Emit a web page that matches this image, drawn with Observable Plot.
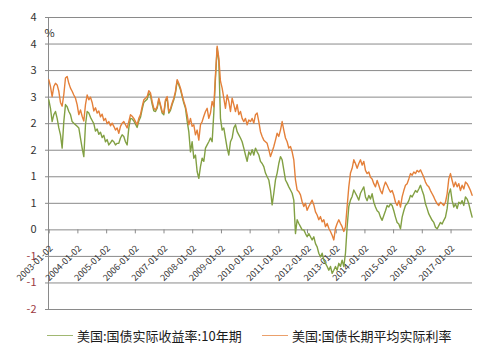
<!DOCTYPE html>
<html><head><meta charset="utf-8">
<script src="https://cdn.jsdelivr.net/npm/d3@7"></script>
<script src="https://cdn.jsdelivr.net/npm/@observablehq/plot@0.6"></script>
<style>
body{margin:0;background:#fff;font-family:"Noto Sans CJK SC","Noto Sans",sans-serif;}
#wrap{position:relative;width:497px;height:359px;overflow:hidden;background:#fff}
#legend{position:absolute;top:325px;left:0;width:497px;height:20px;font-size:13px;color:#1a1a1a}
.item{position:absolute;top:0;height:20px;display:flex;align-items:center;white-space:nowrap}
.sw{width:26px;height:0;border-top:1px solid;margin-right:4px;opacity:.75}
</style></head><body>
<div id="wrap"><div id="chart"></div><div id="legend"></div></div>
<script>
// Series names
const seriesNames = ["美国:国债实际收益率:10年期", "美国:国债长期平均实际利率"];
// Sampling of the daily series: first sample date and spacing (days)
const seriesStart = "2002-12-28";
const stepDays = 21.21;
// 美国:国债实际收益率:10年期 (%)
const realYield10y = [
 2.45,2.29,2.04,2.17,2.23,2.10,1.92,1.79,1.54,2.04,
 2.36,2.32,2.23,2.17,2.04,2.01,1.98,1.95,1.92,1.73,
 1.54,1.38,1.98,2.23,2.20,2.12,2.06,2.00,1.86,1.90,
 1.80,1.84,1.74,1.78,1.66,1.70,1.60,1.64,1.69,1.66,
 1.60,1.63,1.63,1.73,1.79,1.76,1.66,1.60,1.92,2.10,
 2.09,2.05,1.99,1.93,2.05,2.12,2.27,2.40,2.43,2.46,
 2.57,2.53,2.37,2.24,
 2.23,2.29,2.45,2.33,2.20,2.17,2.42,2.48,2.20,2.25,
 2.36,2.45,2.58,2.80,2.73,2.64,2.51,2.39,2.29,2.05,
 1.85,1.47,1.66,1.35,1.41,1.10,0.97,1.19,1.35,1.29,
 1.54,1.60,1.66,1.73,1.66,2.20,2.86,3.42,3.18,2.10,
 1.88,1.92,1.73,1.54,1.41,1.66,1.73,1.92,1.98,1.85,
 1.79,1.73,1.66,1.54,1.41,1.29,1.47,1.41,1.51,1.41,
 1.54,1.47,1.41,1.29,
 1.25,1.19,1.07,1.00,0.94,0.75,0.47,0.69,0.94,1.07,
 1.25,1.38,1.32,1.13,0.94,0.88,0.81,0.75,0.69,0.56,
 -0.07,0.19,0.12,0.06,0.00,0.00,-0.07,-0.13,-0.07,-0.13,
 -0.19,-0.13,-0.26,-0.32,-0.44,-0.51,-0.44,-0.57,-0.63,-0.69,
 -0.76,-0.69,-0.82,-0.76,-0.69,-0.76,-0.63,-0.69,-0.57,-0.69,
 -0.44,0.06,0.44,0.56,0.63,0.75,0.69,0.63,0.56,0.69,
 0.75,0.81,
 0.62,0.55,0.65,0.58,0.68,0.52,0.43,0.36,0.33,0.24,
 0.18,0.27,0.36,0.46,0.43,0.49,0.46,0.36,0.24,0.14,
 0.11,0.02,0.24,0.36,0.46,0.49,0.55,0.65,0.62,0.68,
 0.74,0.71,0.77,0.84,0.74,0.65,0.49,0.40,0.30,0.24,
 0.18,0.14,0.05,0.02,0.08,0.14,0.11,0.18,0.24,0.40,
 0.68,0.77,0.55,0.43,0.49,0.40,0.52,0.49,0.55,0.46,
 0.62,0.58,0.49,0.36,0.24
];
// 美国:国债长期平均实际利率 (%)
const longTermAvgReal = [
 2.83,2.70,2.51,2.70,2.76,2.73,2.61,2.40,2.33,2.55,
 2.86,2.89,2.76,2.67,2.61,2.54,2.48,2.36,2.17,2.26,
 2.14,2.05,2.36,2.54,2.45,2.50,2.40,2.24,2.30,2.20,
 2.24,2.13,2.18,2.06,2.10,2.00,2.04,1.96,2.01,1.95,
 1.88,1.92,1.82,1.95,2.01,2.04,1.98,1.92,2.04,2.17,
 2.14,2.10,2.04,1.98,2.10,2.17,2.32,2.45,2.48,2.51,
 2.62,2.58,2.42,2.29,
 2.26,2.32,2.48,2.36,2.23,2.20,2.45,2.51,2.23,2.28,
 2.39,2.48,2.61,2.83,2.76,2.67,2.54,2.42,2.32,2.17,
 1.98,2.10,1.95,1.98,1.79,1.88,1.69,1.98,2.04,2.14,
 2.23,2.29,2.10,2.20,2.42,2.32,2.92,3.46,3.24,2.80,
 2.67,2.48,2.29,2.54,2.42,2.23,2.48,2.36,2.23,2.36,
 2.17,2.23,2.10,2.04,2.10,1.98,2.07,2.04,2.10,2.01,
 2.17,2.20,2.04,1.85,
 1.76,1.69,1.66,1.63,1.51,1.38,1.47,1.57,1.69,1.82,
 1.76,1.88,2.04,1.88,1.73,1.66,1.54,1.57,1.47,1.32,
 0.94,0.75,0.72,0.66,0.53,0.44,0.50,0.37,0.44,0.50,
 0.56,0.47,0.34,0.28,0.19,0.25,0.15,0.19,0.06,0.12,
 0.03,-0.03,-0.10,-0.19,0.03,0.12,0.19,0.12,0.06,-0.03,
 0.06,0.44,0.81,1.07,1.16,1.32,1.25,1.16,1.25,1.32,
 1.22,1.29,
 1.12,1.06,1.09,0.99,0.96,0.87,0.81,0.93,0.84,0.74,
 0.68,0.81,0.90,0.84,0.77,0.71,0.74,0.65,0.52,0.46,
 0.55,0.43,0.62,0.74,0.84,0.87,0.96,1.06,1.03,1.09,
 1.06,1.12,1.09,1.13,1.06,0.99,0.90,0.84,0.81,0.74,
 0.68,0.62,0.55,0.49,0.46,0.52,0.49,0.46,0.52,0.68,
 0.96,1.06,0.93,0.81,0.90,0.81,0.87,0.74,0.84,0.77,
 0.90,0.87,0.81,0.74,0.65
];
// Axis ticks
const xTickLabels = ["2003-01-02","2004-01-02","2005-01-02","2006-01-02","2007-01-02","2008-01-02","2009-01-02","2010-01-02","2011-01-02","2012-01-02","2013-01-02","2014-01-02","2015-01-02","2016-01-02","2017-01-02"];
const yTicks = [4,3.5,3,2.5,2,1.5,1,0.5,0,-0.5,-1,-1.5];
const yTickLabels = ["4","4","3","3","2","2","1","1","0","-1","-1","-2"];
const xDomain = ["2002-12-24","2017-10-02"];
const yDomain = [-1.5, 4];

const colors = ["#82A043", "#E4803A"];
const t0 = new Date(seriesStart + "T00:00:00Z").getTime();
const toRows = vals => vals.map((v, i) => ({date: new Date(t0 + i * stepDays * 864e5), v}));
const green = toRows(realYield10y), orange = toRows(longTermAvgReal);
const ticks = yTicks.map((v, i) => ({v, label: yTickLabels[i]}));
const xt = xTickLabels.map(s => ({date: new Date(s + "T00:00:00Z"), label: s}));

const chart = Plot.plot({
  width: 497, height: 318,
  marginLeft: 48, marginRight: 25, marginTop: 17, marginBottom: 9,
  style: {background: "#fff", fontFamily: '"Noto Sans CJK SC","Noto Sans",sans-serif', overflow: "visible"},
  x: {type: "utc", domain: xDomain.map(s => new Date(s + "T00:00:00Z")), axis: null},
  y: {domain: yDomain, axis: null},
  marks: [
    Plot.ruleY(ticks, {y: "v", stroke: "#8a8a8a", strokeWidth: 1, insetLeft: -3}),
    Plot.ruleX([new Date(xDomain[0] + "T00:00:00Z")], {stroke: "#8a8a8a", strokeWidth: 1}),
    Plot.ruleX(xt, {x: "date", y1: 0, y2: 0, insetBottom: -4, stroke: "#8a8a8a"}),
    Plot.text(ticks, {y: "v", text: "label", frameAnchor: "left", dx: -12, textAnchor: "end", fontSize: 11,
      fill: d => d.v < 0 ? "#9c3a3f" : "#333"}),
    Plot.text(["%"], {frameAnchor: "top-left", text: d => d, dx: -4, dy: 12, textAnchor: "start", fontSize: 11, fill: "#333"}),
    Plot.text(xt, {x: "date", y: 0, text: "label", rotate: -45, textAnchor: "end", dx: 2, dy: 17, fontSize: 9, fill: "#333"}),
    Plot.line(green, {x: "date", y: "v", stroke: colors[0], strokeWidth: 1.4}),
    Plot.line(orange, {x: "date", y: "v", stroke: colors[1], strokeWidth: 1.4})
  ]
});
document.getElementById("chart").appendChild(chart);

const legend = document.getElementById("legend");
const legendX = [47, 262];
seriesNames.forEach((name, i) => {
  const it = document.createElement("div");
  it.className = "item";
  it.style.left = legendX[i] + "px";
  const sw = document.createElement("span");
  sw.className = "sw";
  sw.style.borderTopColor = colors[i];
  const tx = document.createElement("span");
  tx.textContent = name;
  it.appendChild(sw); it.appendChild(tx);
  legend.appendChild(it);
});
</script>
</body></html>
